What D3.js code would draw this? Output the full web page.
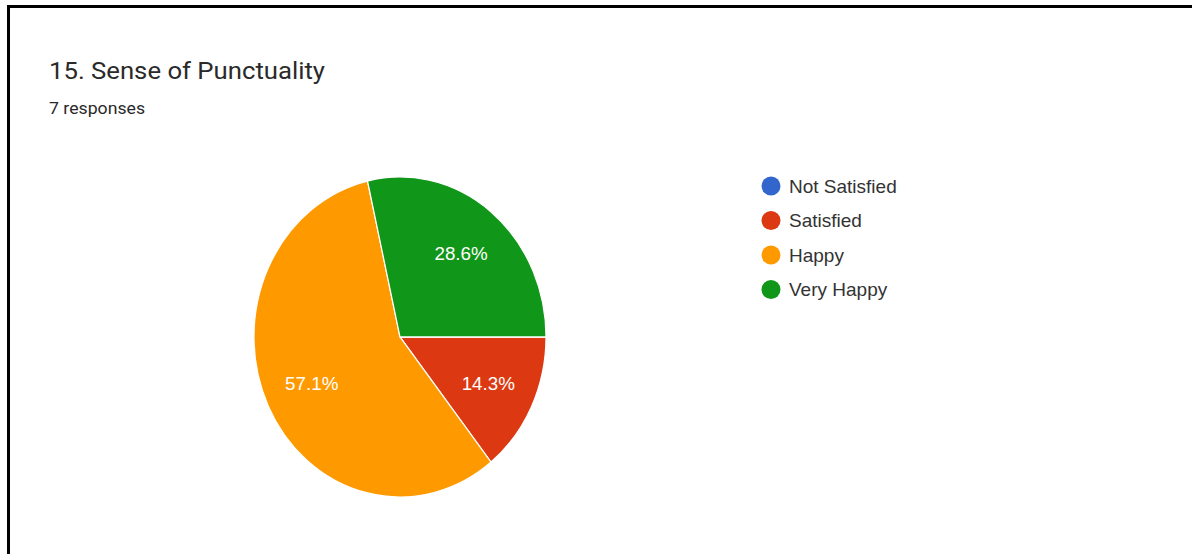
<!DOCTYPE html>
<html>
<head>
<meta charset="utf-8">
<script src="https://cdn.jsdelivr.net/npm/d3@7"></script>
<style>
  html, body { margin: 0; padding: 0; background: #fff; }
  svg { display: block; }
</style>
</head>
<body>
<svg id="chart" width="1192" height="554"></svg>
<script>
const title = "15. Sense of Punctuality";
const subtitle = "7 responses";
const categories = ["Not Satisfied", "Satisfied", "Happy", "Very Happy"];
const counts = [0, 1, 4, 2];
const colors = ["#3366cc", "#dc3912", "#ff9900", "#109618"];

const svg = d3.select("#chart");

// frame
svg.append("rect").attr("x", 0).attr("y", 0).attr("width", 1192).attr("height", 554).attr("fill", "#fff");
svg.append("line").attr("x1", 7).attr("x2", 1192).attr("y1", 6.5).attr("y2", 6.5)
  .attr("stroke", "#000").attr("stroke-width", 3);
svg.append("line").attr("x1", 8.5).attr("x2", 8.5).attr("y1", 5).attr("y2", 554)
  .attr("stroke", "#000").attr("stroke-width", 3);

// titles
svg.append("text").attr("x", 49).attr("y", 79)
  .attr("font-family", "Roboto, Arial, sans-serif").attr("font-size", 23.5)
  .attr("textLength", 276).attr("lengthAdjust", "spacingAndGlyphs")
  .attr("fill", "#2a2a2a").text(title);
svg.append("text").attr("x", 49).attr("y", 114)
  .attr("font-family", "Roboto, Arial, sans-serif").attr("font-size", 17)
  .attr("textLength", 96).attr("lengthAdjust", "spacingAndGlyphs")
  .attr("fill", "#2a2a2a").text(subtitle);

// pie
const cx = 400, cy = 337, r = 146, yStretch = 160 / 146;
const total = d3.sum(counts);
const pie = d3.pie().sort(null).value(d => d.v)
  .startAngle(Math.PI / 2).endAngle(Math.PI / 2 + 2 * Math.PI);
const data = categories.map((c, i) => ({ c, v: counts[i], color: colors[i] }));
const arcs = pie(data);
const arc = d3.arc().innerRadius(0).outerRadius(r);
const labelArc = d3.arc().innerRadius(98).outerRadius(98);

const g = svg.append("g").attr("transform", `translate(${cx},${cy}) scale(1,${yStretch})`);
g.selectAll("path").data(arcs.filter(d => d.data.v > 0)).join("path")
  .attr("d", arc).attr("fill", d => d.data.color)
  .attr("stroke", "#fff").attr("stroke-width", 1.2);

const lg = svg.append("g").attr("transform", `translate(${cx},${cy})`);
lg.selectAll("text").data(arcs.filter(d => d.data.v > 0)).join("text")
  .attr("x", d => labelArc.centroid(d)[0])
  .attr("y", d => labelArc.centroid(d)[1] * yStretch)
  .attr("dy", "0.35em").attr("text-anchor", "middle")
  .attr("font-family", "Arial, 'Liberation Sans', sans-serif").attr("font-size", 18.8)
  .attr("fill", "#fff")
  .text(d => (d.data.v / total * 100).toFixed(1) + "%");

// legend
const legend = svg.append("g");
const rows = legend.selectAll("g").data(data).join("g")
  .attr("transform", (d, i) => `translate(771,${186 + i * 34.5})`);
rows.append("circle").attr("r", 9.5).attr("fill", d => d.color);
rows.append("text").attr("x", 18).attr("dy", "0.36em")
  .attr("font-family", "Arial, 'Liberation Sans', sans-serif").attr("font-size", 19)
  .attr("fill", "#333").text(d => d.c);
</script>
</body>
</html>
